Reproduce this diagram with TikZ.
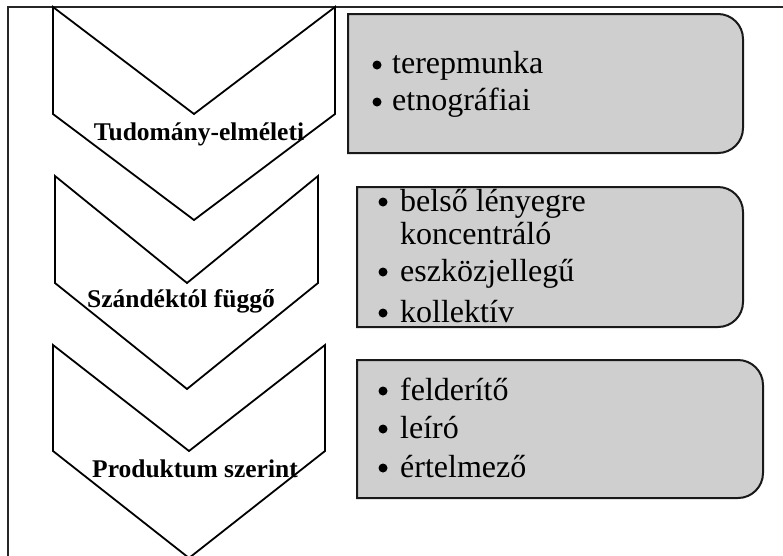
\documentclass[tikz,border=0pt]{standalone}
\usepackage{fontspec}
\setmainfont{Liberation Serif}
\begin{document}
\begin{tikzpicture}[x=1pt,y=1pt,
  frameline/.style={line width=1.3pt,draw=black!85},
  chev/.style={line width=1.8pt,draw=black,line join=miter},
  itembox/.style={line width=2pt,draw=black!90,fill=black!19},
  chevlabel/.style={anchor=base,font=\fontsize{25.5}{30}\selectfont\bfseries,inner sep=0pt},
  itemline/.style={anchor=base west,font=\fontsize{32}{37}\selectfont,inner sep=0pt},
  dot/.style={circle,fill=black,inner sep=0pt,minimum size=9pt}
]
\useasboundingbox (0,0) rectangle (783,-555);
% outer frame (cropped)
\draw[frameline] (8,-600) -- (8,-7) -- (820,-7);

% chevrons
\draw[chev] (53,-7) -- (194,-114) -- (335,-7) -- (335,-114) -- (194,-220) -- (53,-114) -- cycle;
\draw[chev] (55,-176) -- (187,-283) -- (318,-176) -- (318,-283) -- (187,-389) -- (55,-283) -- cycle;
\draw[chev] (53,-345) -- (189,-451) -- (325,-345) -- (325,-451) -- (189,-558) -- (53,-451) -- cycle;

\node[chevlabel] (l1) at (199,-140) {Tudomány-elméleti};
\node[chevlabel] (l2) at (181,-307) {Szándéktól függő};
\node[chevlabel] (l3) at (195,-477) {Produktum szerint};

% boxes with rounded right corners
\draw[itembox] (348,-14) -- (718,-14) arc[start angle=90,end angle=0,radius=25] -- (743,-128) arc[start angle=0,end angle=-90,radius=25] -- (348,-153) -- cycle;
\draw[itembox] (357,-187) -- (718,-187) arc[start angle=90,end angle=0,radius=25] -- (743,-302) arc[start angle=0,end angle=-90,radius=25] -- (357,-327) -- cycle;
\draw[itembox] (357,-360) -- (738,-360) arc[start angle=90,end angle=0,radius=25] -- (763,-473) arc[start angle=0,end angle=-90,radius=25] -- (357,-498) -- cycle;

% box texts
\node[dot] (a1d) at (377,-65) {};
\node[itemline] (a1) at (392,-73) {terepmunka};
\node[dot] (a2d) at (377,-102) {};
\node[itemline] (a2) at (392,-110) {etnográfiai};

\node[dot] (b1d) at (383,-202) {};
\node[itemline] (b1) at (400,-211) {belső lényegre};
\node[itemline] (b1b) at (400,-244) {koncentráló};
\node[dot] (b2d) at (383,-272) {};
\node[itemline] (b2) at (400,-281) {eszközjellegű};
\node[dot] (b3d) at (383,-313) {};
\node[itemline] (b3) at (400,-322) {kollektív};

\node[dot] (c1d) at (383,-391) {};
\node[itemline] (c1) at (400,-400) {felderítő};
\node[dot] (c2d) at (383,-429) {};
\node[itemline] (c2) at (400,-438) {leíró};
\node[dot] (c3d) at (383,-468) {};
\node[itemline] (c3) at (400,-477) {értelmező};
\end{tikzpicture}
\end{document}
